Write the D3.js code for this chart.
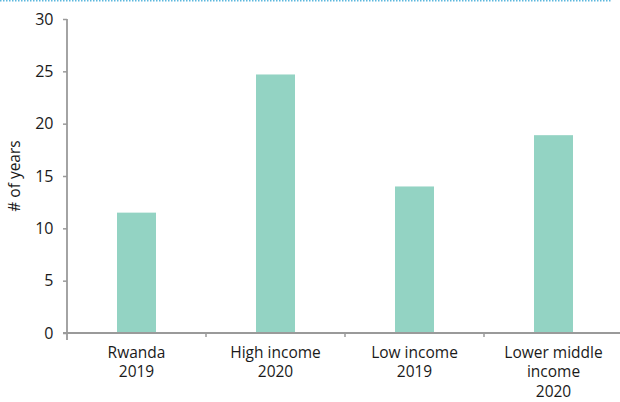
<!DOCTYPE html>
<html>
<head>
<meta charset="utf-8">
<script src="https://cdn.jsdelivr.net/npm/d3@7"></script>
<style>
  html, body { margin: 0; padding: 0; background: #fff; }
  svg { display: block; font-family: "Open Sans", "Noto Sans", sans-serif; }
</style>
</head>
<body>
<svg id="chart" width="620" height="402"></svg>
<script>
// Years of data, by country / income group
const categories = [
  ["Rwanda", "2019"],
  ["High income", "2020"],
  ["Low income", "2019"],
  ["Lower middle", "income", "2020"]
];
const values = [11.5, 24.7, 14.0, 18.9];
const yTicks = [0, 5, 10, 15, 20, 25, 30];
const yTitle = "# of years";

const svg = d3.select("#chart");
const W = 620, H = 402;
const margin = { top: 19, right: -3, bottom: 69, left: 67 };

// dotted rule across the top
svg.append("line")
  .attr("x1", 0).attr("x2", 612)
  .attr("y1", 0.75).attr("y2", 0.75)
  .attr("stroke", "#5cb8dd")
  .attr("stroke-width", 1.5)
  .attr("stroke-dasharray", "1.5,1.5");

const x = d3.scaleBand()
  .domain(d3.range(categories.length))
  .range([margin.left, W - margin.right])
  .paddingInner(0).paddingOuter(0);

const y = d3.scaleLinear()
  .domain([0, 30])
  .range([H - margin.bottom, margin.top]);

const barW = 39;
const axisColor = "#9a9a9a";

// bars
svg.append("g").selectAll("rect")
  .data(values)
  .join("rect")
  .attr("x", (d, i) => x(i) + (x.bandwidth() - barW) / 2)
  .attr("width", barW)
  .attr("y", d => y(d))
  .attr("height", d => y(0) - y(d))
  .attr("fill", "#93d3c3");

// y axis
const yAxis = svg.append("g")
  .attr("transform", `translate(${margin.left},0)`)
  .call(d3.axisLeft(y).tickValues(yTicks).tickSize(4).tickPadding(9.5))
  .attr("font-family", null)
  .attr("font-size", null);
yAxis.select(".domain").remove();
yAxis.append("line")
  .attr("x1", 0).attr("x2", 0)
  .attr("y1", y(30)).attr("y2", y(0) + 7)
  .attr("stroke", axisColor).attr("stroke-width", 1.8);
yAxis.selectAll(".tick line").attr("stroke", axisColor).attr("stroke-width", 1.5);
yAxis.selectAll(".tick text")
  .attr("fill", "#1a1a1a")
  .style("font-size", "16px");

// x axis
const xAxis = svg.append("g")
  .attr("transform", `translate(0,${y(0)})`);
xAxis.append("line")
  .attr("x1", margin.left - 4).attr("x2", W)
  .attr("y1", 0).attr("y2", 0)
  .attr("stroke", axisColor).attr("stroke-width", 1.8);
xAxis.selectAll("line.sep")
  .data(d3.range(1, categories.length))
  .join("line")
  .attr("class", "sep")
  .attr("x1", i => x(i)).attr("x2", i => x(i))
  .attr("y1", 0).attr("y2", 4)
  .attr("stroke", axisColor).attr("stroke-width", 1.5);

// category labels, one text per line
const lineGap = 19.8;
const lbl = svg.append("g").selectAll("g")
  .data(categories)
  .join("g")
  .attr("transform", (d, i) => `translate(${x(i) + x.bandwidth() / 2},${y(0) + 24.5})`);
lbl.selectAll("text")
  .data(d => d)
  .join("text")
  .attr("y", (d, j) => j * lineGap)
  .attr("text-anchor", "middle")
  .attr("fill", "#1a1a1a")
  .style("font-size", "15.5px")
  .text(d => d);

// y axis title
svg.append("text")
  .attr("transform", `translate(19.5,${(y(0) + y(30)) / 2}) rotate(-90)`)
  .attr("text-anchor", "middle")
  .attr("fill", "#1a1a1a")
  .style("font-size", "15.5px")
  .text(yTitle);
</script>
</body>
</html>
